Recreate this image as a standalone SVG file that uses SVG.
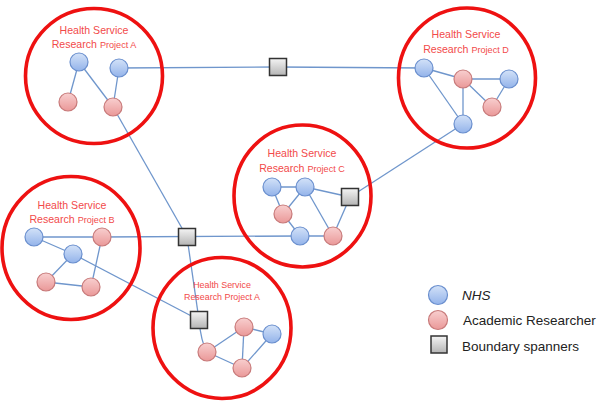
<svg xmlns="http://www.w3.org/2000/svg" width="600" height="402" viewBox="0 0 600 402">
<defs>
<linearGradient id="gBlue" x1="0" y1="0" x2="0" y2="1">
<stop offset="0" stop-color="#d3e2f8"/><stop offset="1" stop-color="#93b3ea"/>
</linearGradient>
<linearGradient id="gPink" x1="0" y1="0" x2="0" y2="1">
<stop offset="0" stop-color="#f8cfcf"/><stop offset="1" stop-color="#ea9898"/>
</linearGradient>
<linearGradient id="gBox" x1="0" y1="0" x2="0" y2="1">
<stop offset="0" stop-color="#f4f4f4"/><stop offset="1" stop-color="#b4b4b4"/>
</linearGradient>
<style>
.ring{fill:none;stroke:#ee1111;stroke-width:3.6}
.lbl{font-family:"Liberation Sans",Arial,sans-serif;fill:#f24a4a;text-anchor:middle}
.edge{stroke:#6f96cc;stroke-width:1.3;fill:none}
.nhs{fill:url(#gBlue);stroke:#6a8fce;stroke-width:1.2}
.aca{fill:url(#gPink);stroke:#c87a7a;stroke-width:1.2}
.box{fill:url(#gBox);stroke:#333;stroke-width:1.5}
.leg{font-family:"Liberation Sans",Arial,sans-serif;font-size:13.5px;fill:#222}
</style>
</defs>
<rect width="600" height="402" fill="#fff"/>

<g id="connectors" class="edge">
<!-- Project A (top) -->
<line x1="79" y1="62" x2="68" y2="102"/>
<line x1="79" y1="62" x2="113" y2="107"/>
<line x1="119" y1="68" x2="113" y2="107"/>
<line x1="113" y1="107" x2="187" y2="237"/>
<line x1="119" y1="68" x2="278" y2="67"/>
<line x1="278" y1="67" x2="424" y2="68"/>
<!-- Project D -->
<line x1="424" y1="68" x2="463" y2="79"/>
<line x1="463" y1="79" x2="509" y2="79"/>
<line x1="463" y1="79" x2="492" y2="107"/>
<line x1="509" y1="79" x2="492" y2="107"/>
<line x1="463" y1="79" x2="463" y2="124"/>
<line x1="424" y1="68" x2="463" y2="124"/>
<line x1="463" y1="124" x2="350" y2="197"/>
<!-- Project C -->
<line x1="272" y1="187" x2="305" y2="187"/>
<line x1="272" y1="187" x2="283" y2="214"/>
<line x1="305" y1="187" x2="283" y2="214"/>
<line x1="305" y1="187" x2="350" y2="197"/>
<line x1="305" y1="187" x2="333" y2="236"/>
<line x1="283" y1="214" x2="300" y2="236"/>
<line x1="300" y1="236" x2="333" y2="236"/>
<line x1="333" y1="236" x2="350" y2="197"/>
<!-- Project B -->
<line x1="34" y1="237" x2="102" y2="237"/>
<line x1="102" y1="237" x2="300" y2="236"/>
<line x1="34" y1="237" x2="73" y2="254"/>
<line x1="73" y1="254" x2="46" y2="282"/>
<line x1="46" y1="282" x2="91" y2="287"/>
<line x1="102" y1="237" x2="91" y2="287"/>
<line x1="73" y1="254" x2="199" y2="320"/>
<!-- Boundary spanners -->
<line x1="187" y1="237" x2="199" y2="320"/>
<!-- Project A (bottom) -->
<path d="M199,320 Q201,342 207,352"/>
<line x1="207" y1="352" x2="244" y2="327"/>
<line x1="207" y1="352" x2="242" y2="368"/>
<line x1="244" y1="327" x2="272" y2="334"/>
<line x1="244" y1="327" x2="242" y2="368"/>
<line x1="272" y1="334" x2="242" y2="368"/>
</g>

<g id="projectA_top">
<ellipse class="ring" cx="94" cy="76" rx="68.5" ry="67.5"/>
<text class="lbl" x="94" y="34" font-size="10.6">Health Service</text>
<text class="lbl" x="94" y="48" font-size="10.6">Research <tspan font-size="9.1">Project A</tspan></text>
</g>
<g id="projectD">
<ellipse class="ring" cx="467" cy="78" rx="68.5" ry="70"/>
<text class="lbl" x="466" y="38" font-size="10.6">Health Service</text>
<text class="lbl" x="466" y="53" font-size="10.6">Research <tspan font-size="9.1">Project D</tspan></text>
</g>
<g id="projectC">
<ellipse class="ring" cx="302.5" cy="196" rx="68.5" ry="71"/>
<text class="lbl" x="302" y="157" font-size="10.6">Health Service</text>
<text class="lbl" x="302" y="172" font-size="10.6">Research <tspan font-size="9.1">Project C</tspan></text>
</g>
<g id="projectB">
<ellipse class="ring" cx="71" cy="248" rx="69" ry="71.5"/>
<text class="lbl" x="72" y="209" font-size="10.6">Health Service</text>
<text class="lbl" x="72" y="223" font-size="10.6">Research <tspan font-size="9.1">Project B</tspan></text>
</g>
<g id="projectA_bottom">
<ellipse class="ring" cx="222" cy="328" rx="69" ry="70.5"/>
<text class="lbl" x="222" y="288" font-size="8.9">Health Service</text>
<text class="lbl" x="222" y="300" font-size="8.9">Research Project A</text>
</g>

<g id="a_nhs1"><circle class="nhs" cx="79" cy="62" r="9"/></g>
<g id="a_nhs2"><circle class="nhs" cx="119" cy="68" r="9"/></g>
<g id="a_aca1"><circle class="aca" cx="68" cy="102" r="9"/></g>
<g id="a_aca2"><circle class="aca" cx="113" cy="107" r="9"/></g>

<g id="d_nhs1"><circle class="nhs" cx="424" cy="68" r="9"/></g>
<g id="d_aca1"><circle class="aca" cx="463" cy="79" r="9"/></g>
<g id="d_nhs2"><circle class="nhs" cx="509" cy="79" r="9"/></g>
<g id="d_aca2"><circle class="aca" cx="492" cy="107" r="9"/></g>
<g id="d_nhs3"><circle class="nhs" cx="463" cy="124" r="9"/></g>

<g id="c_nhs1"><circle class="nhs" cx="272" cy="187" r="9"/></g>
<g id="c_nhs2"><circle class="nhs" cx="305" cy="187" r="9"/></g>
<g id="c_aca1"><circle class="aca" cx="283" cy="214" r="9"/></g>
<g id="c_nhs3"><circle class="nhs" cx="300" cy="236" r="9"/></g>
<g id="c_aca2"><circle class="aca" cx="333" cy="236" r="9"/></g>

<g id="b_nhs1"><circle class="nhs" cx="34" cy="237" r="9"/></g>
<g id="b_aca1"><circle class="aca" cx="102" cy="237" r="9"/></g>
<g id="b_nhs2"><circle class="nhs" cx="73" cy="254" r="9"/></g>
<g id="b_aca2"><circle class="aca" cx="46" cy="282" r="9"/></g>
<g id="b_aca3"><circle class="aca" cx="91" cy="287" r="9"/></g>

<g id="e_aca1"><circle class="aca" cx="207" cy="352" r="9"/></g>
<g id="e_aca2"><circle class="aca" cx="244" cy="327" r="9"/></g>
<g id="e_nhs1"><circle class="nhs" cx="272" cy="334" r="9"/></g>
<g id="e_aca3"><circle class="aca" cx="242" cy="368" r="9"/></g>

<g id="span_top"><rect class="box" x="269.5" y="58.5" width="17" height="17"/></g>
<g id="span_mid"><rect class="box" x="178.5" y="228.5" width="17" height="17"/></g>
<g id="span_low"><rect class="box" x="190.5" y="311.5" width="17" height="17"/></g>
<g id="span_c"><rect class="box" x="341.5" y="188.5" width="17" height="17"/></g>

<g id="legend">
<circle class="nhs" cx="438" cy="295" r="9.5"/>
<text class="leg" x="462" y="300" font-style="italic">NHS</text>
<circle class="aca" cx="438" cy="320" r="9.5"/>
<text class="leg" x="463" y="325">Academic Researcher</text>
<rect class="box" x="431" y="336" width="16" height="17"/>
<text class="leg" x="462" y="351">Boundary spanners</text>
</g>
</svg>
